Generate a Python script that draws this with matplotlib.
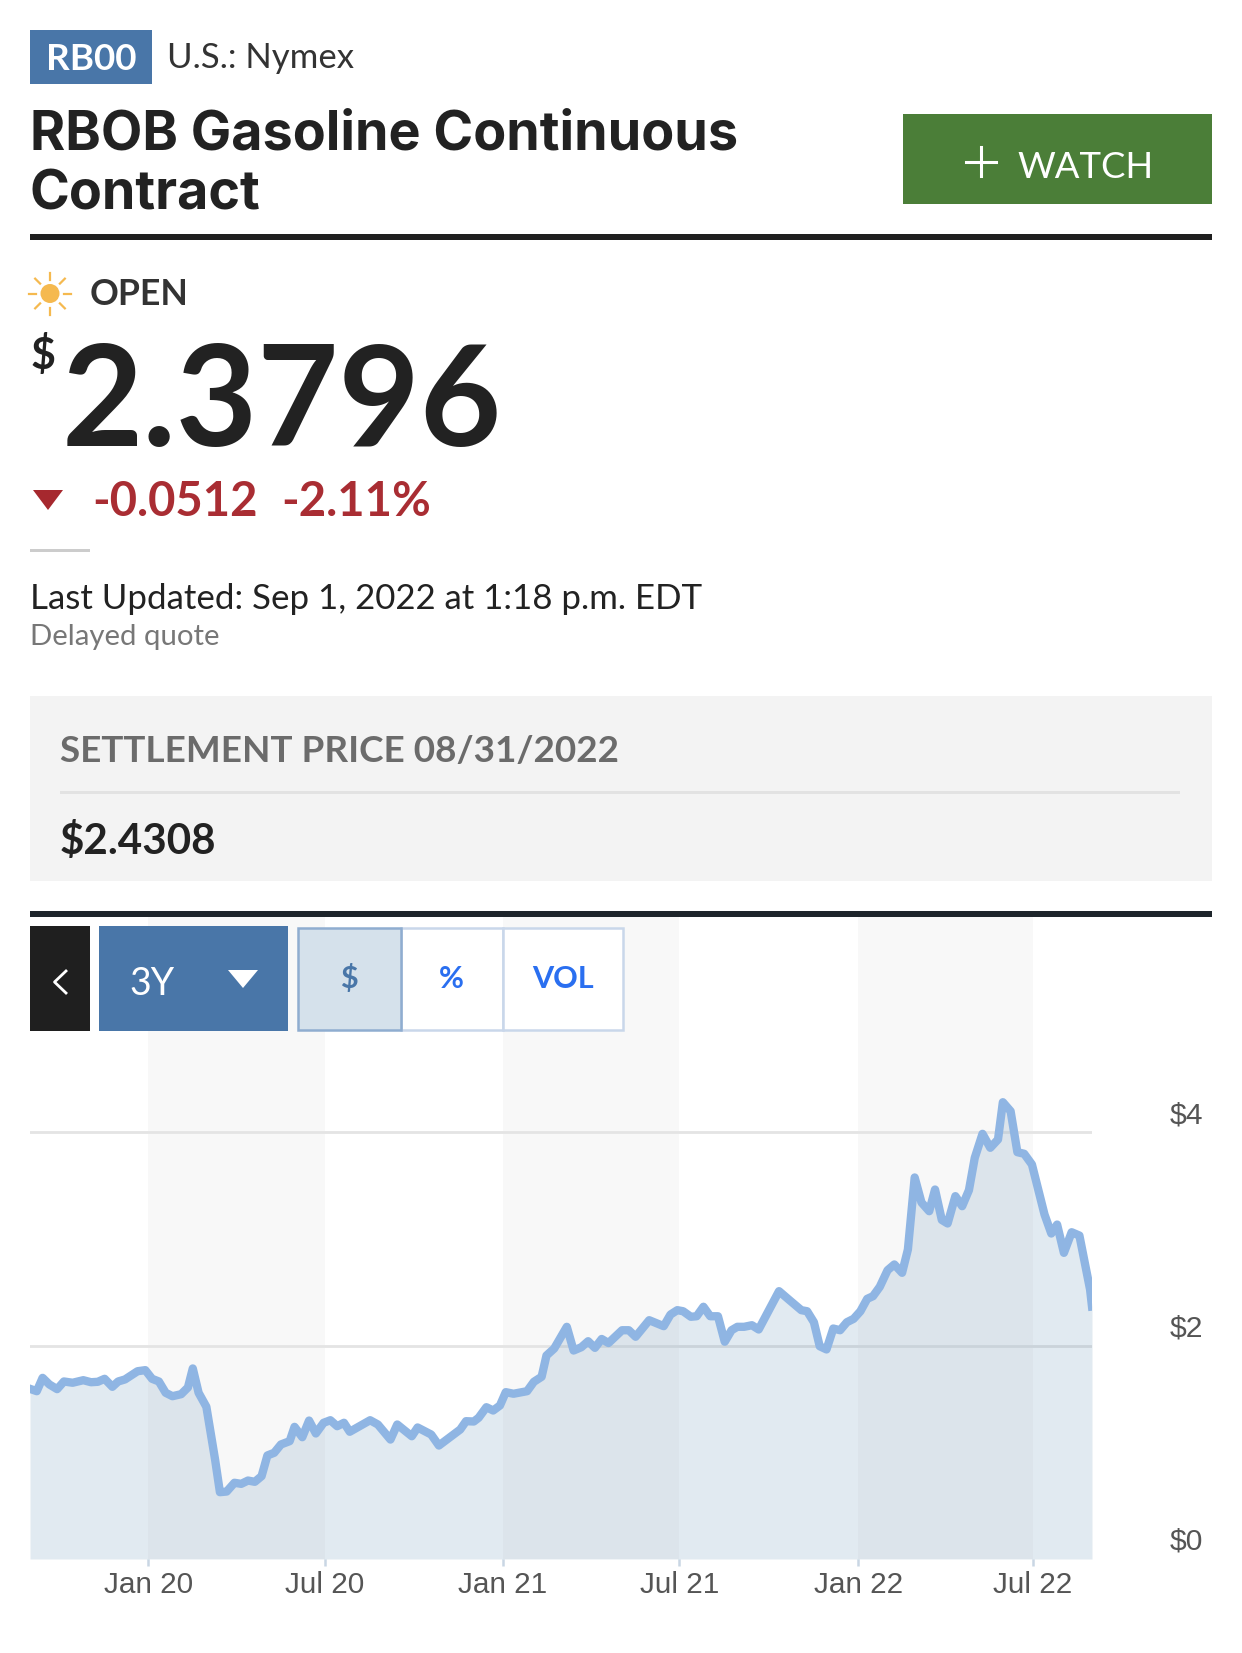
import numpy as np
import matplotlib
matplotlib.use("Agg")
import matplotlib.pyplot as plt
import matplotlib.dates as mdates
from matplotlib.patches import Rectangle, Circle, Polygon
from matplotlib.transforms import ScaledTranslation
from datetime import date, timedelta

W, H, DPI = 1242, 1653, 100

start_date = date(2019, 9, 1)
end_date = date(2022, 9, 1)

day_offsets = [0, 7, 13, 20, 28, 35, 44, 55, 63, 70, 77, 85, 91, 98, 111, 119, 126, 133, 140, 147,
               156, 163, 168, 174, 182, 191, 196, 203, 211, 218, 225, 232, 239, 245, 252, 259, 268,
               273, 281, 288, 295, 303, 310, 317, 324, 330, 351, 359, 372, 379, 394, 400, 414, 422,
               444, 450, 458, 463, 471, 478, 485, 491, 499, 513, 520, 528, 533, 541, 554, 561, 569,
               576, 583, 590, 597, 611, 618, 625, 639, 654, 661, 668, 674, 682, 688, 695, 702, 710,
               717, 724, 730, 737, 745, 752, 773, 783, 796, 802, 809, 815, 822, 829, 836, 843, 850,
               857, 864, 870, 877, 885, 892, 900, 906, 913, 920, 928, 934, 941, 947, 955, 962, 969,
               975, 983, 991, 999, 1004, 1012, 1019, 1026, 1034, 1047, 1054, 1060, 1067, 1075, 1083,
               1094, 1096]
prices = [1.594, 1.572, 1.697, 1.635, 1.591, 1.663, 1.651, 1.675, 1.656, 1.660, 1.688, 1.613, 1.663,
          1.682, 1.759, 1.769, 1.688, 1.663, 1.557, 1.525, 1.544, 1.607, 1.785, 1.557, 1.426, 0.932,
          0.626, 0.632, 0.714, 0.704, 0.735, 0.723, 0.776, 0.970, 0.995, 1.073, 1.104, 1.238, 1.141,
          1.297, 1.176, 1.276, 1.300, 1.244, 1.276, 1.192, 1.300, 1.260, 1.119, 1.260, 1.150, 1.232,
          1.166, 1.063, 1.213, 1.291, 1.288, 1.323, 1.422, 1.391, 1.438, 1.563, 1.548, 1.572, 1.660,
          1.707, 1.906, 1.972, 2.175, 1.953, 1.984, 2.040, 1.978, 2.061, 2.023, 2.143, 2.143, 2.082,
          2.237, 2.181, 2.290, 2.331, 2.321, 2.269, 2.274, 2.363, 2.274, 2.274, 2.035, 2.143, 2.175,
          2.175, 2.190, 2.150, 2.509, 2.431, 2.331, 2.321, 2.218, 1.993, 1.963, 2.159, 2.143, 2.218,
          2.250, 2.321, 2.437, 2.462, 2.550, 2.705, 2.759, 2.681, 2.899, 3.574, 3.340, 3.258, 3.461,
          3.176, 3.143, 3.399, 3.305, 3.455, 3.758, 3.983, 3.852, 3.930, 4.279, 4.195, 3.811, 3.796,
          3.696, 3.227, 3.049, 3.133, 2.868, 3.061, 3.030, 2.525, 2.365]

x_tick_dates = [date(2020, 1, 1), date(2020, 7, 1), date(2021, 1, 1),
                date(2021, 7, 2), date(2022, 1, 3), date(2022, 7, 2)]
x_tick_labels = ["Jan 20", "Jul 20", "Jan 21", "Jul 21", "Jan 22", "Jul 22"]
y_ticks = [0, 2, 4]
y_tick_labels = ["$0", "$2", "$4"]

BLUE = "#4976a8"
DARK = "#1f1f1f"
plt.rcParams["font.family"] = ["Lato", "DejaVu Sans"]

fig = plt.figure(figsize=(W / DPI, H / DPI), dpi=DPI, facecolor="white")

# ---------------- chart ----------------
L, R, T, B = 30, 1092, 917, 1559
ax = fig.add_axes([L / W, 1 - B / H, (R - L) / W, (B - T) / H], zorder=1)
ax.set_ylim(0, (B - T) / 106.75)
ax.set_xlim(mdates.date2num(start_date), mdates.date2num(end_date))
ax.patch.set_visible(False)
for s in ax.spines.values():
    s.set_visible(False)

x = mdates.date2num([start_date + timedelta(days=d) for d in day_offsets])
tx = mdates.date2num(x_tick_dates)
for a, b in zip(tx[0::2], tx[1::2]):
    ax.axvspan(a, b, color="#f8f8f8", lw=0, zorder=0)
for v in y_ticks[1:]:
    ax.axhline(v, color="#e4e4e4", lw=2.0, zorder=1)
ax.fill_between(x, prices, 0, color="#4a7ea8", alpha=0.16, lw=0, zorder=2)
ax.plot(x, prices, color="#8fb5e3", lw=6.0, solid_joinstyle="round", zorder=3)

ax.set_xticks(tx, x_tick_labels, family=["Liberation Sans"], fontsize=21.4, color="#555555")
ax.tick_params(axis="x", length=5, width=1.8, color="#c9d6e4", pad=3.5)
ax.yaxis.tick_right()
ax.set_yticks(y_ticks, y_tick_labels, family=["Liberation Sans"], fontsize=21.7, color="#555555")
ax.tick_params(axis="y", length=0, pad=56)
shift = ScaledTranslation(0, 20 / DPI, fig.dpi_scale_trans)
for lab in ax.get_yticklabels():
    lab.set_transform(lab.get_transform() + shift)

# ---------------- page furniture, in pixels ----------------
ui = fig.add_axes([0, 0, 1, 1], zorder=2)
ui.set_xlim(0, W)
ui.set_ylim(H, 0)
ui.axis("off")


def box(x0, y0, x1, y1, fc, ec="none", lw=0, z=1):
    ui.add_patch(Rectangle((x0, y0), x1 - x0, y1 - y0, fc=fc, ec=ec, lw=lw, zorder=z))


def txt(x0, y0, s, size, color="#222222", weight="normal", ha="left", va="baseline", **kw):
    ui.text(x0, y0, s, fontsize=size, color=color, fontweight=weight, ha=ha, va=va, zorder=5, **kw)


box(30, 30, 152, 84, BLUE)
txt(91, 69.5, "RB00", 26.5, "white", "bold", ha="center")
txt(167, 68.5, "U.S.: Nymex", 25, "#333333")

txt(30, 150, "RBOB Gasoline Continuous", 38.8, "#222222", "bold", family=["Inter", "Lato"])
txt(30, 210, "Contract", 38.8, "#222222", "bold", family=["Inter", "Lato"])
box(903, 114, 1212, 204, "#4b7e38")
ui.plot([966, 996], [161.5, 161.5], color="white", lw=2.2, zorder=5)
ui.plot([981, 981], [147, 176], color="white", lw=2.2, zorder=5)
txt(1017, 177.5, "WATCH", 26.3, "white")
box(30, 234, 1212, 240, DARK)

sx, sy = 50, 293.5
ui.add_patch(Circle((sx, sy), 9.5, fc="#f5b94f", ec="none", zorder=5))
for ang in np.arange(0, 360, 45):
    c, s_ = np.cos(np.radians(ang)), np.sin(np.radians(ang))
    ui.plot([sx + 14 * c, sx + 21 * c], [sy + 14 * s_, sy + 21 * s_], color="#f5b94f", lw=1.6, zorder=5)
txt(90, 305, "OPEN", 25.7, "#333333", "bold")

txt(31, 369, "$", 31, "#222222", "bold")
txt(62, 446, "2.3796", 101, "#222222", "bold")
ui.add_patch(Polygon([[33, 490], [63, 490], [48, 510]], fc="#a6282e", ec="none", zorder=5))
txt(92, 516, "-0.0512", 34, "#a92d33", "bold")
txt(281, 516, "-2.11%", 34, "#a92d33", "bold")
box(30, 548.5, 90, 551.5, "#cccccc")
txt(30, 609, "Last Updated: Sep 1, 2022 at 1:18 p.m. EDT", 25.1, "#222222")
txt(30, 645, "Delayed quote", 21.2, "#777777")

box(30, 696, 1212, 881, "#f3f3f3")
box(60, 791, 1180, 794, "#e2e2e2", z=2)
txt(60, 762, "SETTLEMENT PRICE 08/31/2022", 26.6, "#6b6b6b", "bold")
txt(60, 854, "$2.4308", 30.3, "#222222", "bold")

box(30, 911, 1212, 917, "#1e252b")
box(30, 926, 90, 1031, DARK)
ui.plot([66, 54.5, 66], [971, 982, 993], color="white", lw=2.0, zorder=5)
box(99, 926, 288, 1031, BLUE)
txt(129, 995, "3Y", 27, "white")
ui.add_patch(Polygon([[228, 970], [258, 970], [243, 988]], fc="white", ec="none", zorder=5))

box(297.5, 927.5, 401, 1029.5, "#d5e1eb", "#8fadd0", 1.8, z=3)
box(401, 927.5, 502.5, 1029.5, "white", "#c9d7ea", 1.8, z=2)
box(502.5, 927.5, 622.5, 1029.5, "white", "#c9d7ea", 1.8, z=2)
txt(349, 979, "$", 22, BLUE, "bold", ha="center", va="center")
txt(451, 979, "%", 22, "#2a6ff0", "bold", ha="center", va="center")
txt(562.5, 979, "VOL", 22, "#2a6ff0", "bold", ha="center", va="center")

fig.savefig("out.png", dpi=DPI, facecolor="white")
